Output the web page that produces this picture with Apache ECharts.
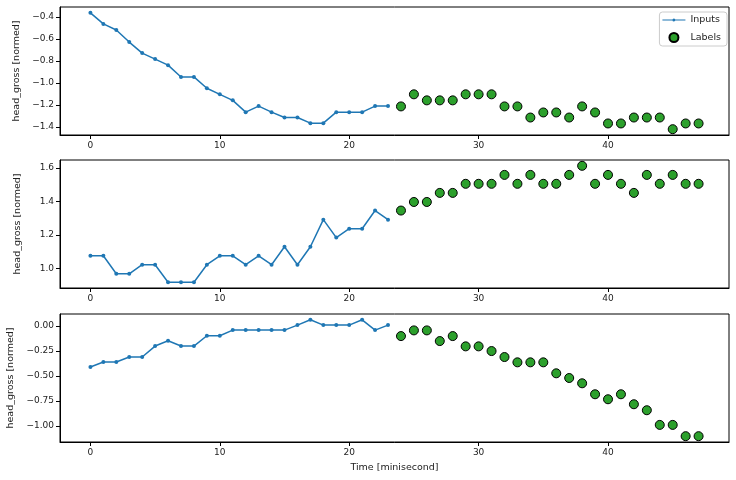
<!DOCTYPE html>
<html>
<head>
<meta charset="utf-8">
<script src="https://cdn.jsdelivr.net/npm/echarts@6/dist/echarts.min.js"></script>
<style>
  html, body { margin: 0; padding: 0; background: #fff; }
  #chart { width: 736px; height: 480px; }
</style>
</head>
<body>
<div id="chart"></div>
<script>
// time steps
const inputSteps = [0, 1, 2, 3, 4, 5, 6, 7, 8, 9, 10, 11, 12, 13, 14, 15, 16, 17, 18, 19, 20, 21, 22, 23]
const labelSteps = [24, 25, 26, 27, 28, 29, 30, 31, 32, 33, 34, 35, 36, 37, 38, 39, 40, 41, 42, 43, 44, 45, 46, 47]

// panel 1
const inputs1 = [-0.363, -0.464, -0.519, -0.629, -0.729, -0.784, -0.839, -0.946, -0.946, -1.049, -1.104, -1.159,
  -1.266, -1.211, -1.266, -1.315, -1.315, -1.366, -1.366, -1.266, -1.266, -1.266, -1.211, -1.211]
const labels1 = [-1.214, -1.104, -1.159, -1.159, -1.159, -1.104, -1.104, -1.104, -1.214, -1.214, -1.315, -1.269,
  -1.269, -1.315, -1.214, -1.269, -1.369, -1.369, -1.315, -1.315, -1.315, -1.421, -1.369, -1.369]

// panel 2
const inputs2 = [1.077, 1.077, 0.970, 0.970, 1.024, 1.024, 0.920, 0.920, 0.920, 1.024, 1.077, 1.077,
  1.024, 1.077, 1.024, 1.131, 1.024, 1.131, 1.292, 1.185, 1.238, 1.238, 1.346, 1.292]
const labels2 = [1.346, 1.397, 1.397, 1.451, 1.451, 1.505, 1.505, 1.505, 1.558, 1.505, 1.558, 1.505,
  1.505, 1.558, 1.612, 1.505, 1.558, 1.505, 1.451, 1.558, 1.505, 1.558, 1.505, 1.505]

// panel 3
const inputs3 = [-0.41, -0.36, -0.36, -0.31, -0.31, -0.20, -0.147, -0.20, -0.20, -0.097, -0.097, -0.04,
  -0.04, -0.04, -0.04, -0.04, 0.01, 0.063, 0.01, 0.01, 0.01, 0.063, -0.04, 0.01]
const labels3 = [-0.10, -0.043, -0.043, -0.15, -0.10, -0.203, -0.203, -0.25, -0.31, -0.363, -0.363, -0.363,
  -0.473, -0.52, -0.573, -0.683, -0.733, -0.683, -0.783, -0.843, -0.99, -0.99, -1.103, -1.103]

// tick labels
const xTicks = [0, 10, 20, 30, 40]
const yTicks1 = [-1.4, -1.2, -1.0, -0.8, -0.6, -0.4]
const yTicks2 = [1.0, 1.2, 1.4, 1.6]
const yTicks3 = [-1.0, -0.75, -0.5, -0.25, 0]

const font = 'DejaVu Sans'
const pad = (v) => (v.max - v.min) * 0.05
const pairs = (xs, ys) => xs.map((x, i) => [x, ys[i]])
const fmt = (d) => (v) => v.toFixed(d).replace('-', '\u2212')

const tops = [7, 160, 314]
const grids = tops.map((t) => ({
  left: 60, right: 7, top: t, height: 128, outerBoundsMode: 'none',
  show: true, borderColor: '#000', borderWidth: 1, backgroundColor: 'transparent'
}))

function xAxis(i) {
  const ax = {
    type: 'value', gridIndex: i, position: 'bottom',
    min: (v) => v.min - pad(v), max: (v) => v.max + pad(v),
    axisLine: { show: true, onZero: false, lineStyle: { color: '#000', width: 1 } },
    axisTick: { show: true, inside: false, length: 4, lineStyle: { color: '#000', width: 1 }, customValues: xTicks },
    axisLabel: { color: '#222', fontFamily: font, fontSize: 9, margin: 6, customValues: xTicks },
    splitLine: { show: false }
  }
  if (i === 2) {
    ax.name = 'Time [minisecond]'
    ax.nameLocation = 'middle'
    ax.nameGap = 21
    ax.nameTextStyle = { color: '#222', fontFamily: font, fontSize: 9.5 }
  }
  return ax
}

function yAxis(i, ticks, dec, gap) {
  return {
    type: 'value', gridIndex: i, position: 'left', scale: true,
    min: (v) => v.min - pad(v), max: (v) => v.max + pad(v),
    name: 'head_gross [normed]', nameLocation: 'middle', nameGap: gap, nameRotate: 90,
    nameTextStyle: { color: '#222', fontFamily: font, fontSize: 9.5 },
    axisLine: { show: true, onZero: false, lineStyle: { color: '#000', width: 1 } },
    axisTick: { show: true, inside: false, length: 4, lineStyle: { color: '#000', width: 1 }, customValues: ticks },
    axisLabel: { color: '#222', fontFamily: font, fontSize: 9, margin: 6, customValues: ticks, formatter: fmt(dec) },
    splitLine: { show: false }
  }
}

function inputSeries(i, ys) {
  return {
    name: 'Inputs', type: 'line', xAxisIndex: i, yAxisIndex: i,
    data: pairs(inputSteps, ys),
    symbol: 'circle', symbolSize: 4,
    lineStyle: { color: '#1f77b4', width: 1.5 },
    itemStyle: { color: '#1f77b4' },
    animation: false, z: 3
  }
}

function labelSeries(i, ys) {
  return {
    name: 'Labels', type: 'scatter', xAxisIndex: i, yAxisIndex: i,
    data: pairs(labelSteps, ys),
    symbol: 'circle', symbolSize: 9,
    itemStyle: { color: '#2ca02c', borderColor: '#000', borderWidth: 1, opacity: 1 },
    animation: false, z: 4
  }
}

const chart = echarts.init(document.getElementById('chart'))
chart.setOption({
  animation: false,
  backgroundColor: '#fff',
  textStyle: { fontFamily: font },
  grid: grids,
  xAxis: [xAxis(0), xAxis(1), xAxis(2)],
  yAxis: [
    yAxis(0, yTicks1, 1, 37),
    yAxis(1, yTicks2, 1, 37),
    yAxis(2, yTicks3, 2, 42)
  ],
  legend: {
    orient: 'vertical', right: 9, top: 12,
    align: 'left',
    data: [
      { name: 'Inputs', icon: 'path://M0,4.4L23,4.4L23,5.6L0,5.6Z M11.5,3.5A1.5,1.5,0,1,1,11.49,3.5Z' },
      { name: 'Labels' }
    ],
    itemWidth: 23, itemHeight: 9, itemGap: 7,
    padding: [3, 6, 3, 3],
    backgroundColor: 'rgba(255,255,255,0.8)',
    borderColor: '#ccc', borderWidth: 1, borderRadius: 3,
    textStyle: { color: '#222', fontFamily: font, fontSize: 9.5 }
  },
  series: [
    inputSeries(0, inputs1), labelSeries(0, labels1),
    inputSeries(1, inputs2), labelSeries(1, labels2),
    inputSeries(2, inputs3), labelSeries(2, labels3)
  ]
})
</script>
</body>
</html>
